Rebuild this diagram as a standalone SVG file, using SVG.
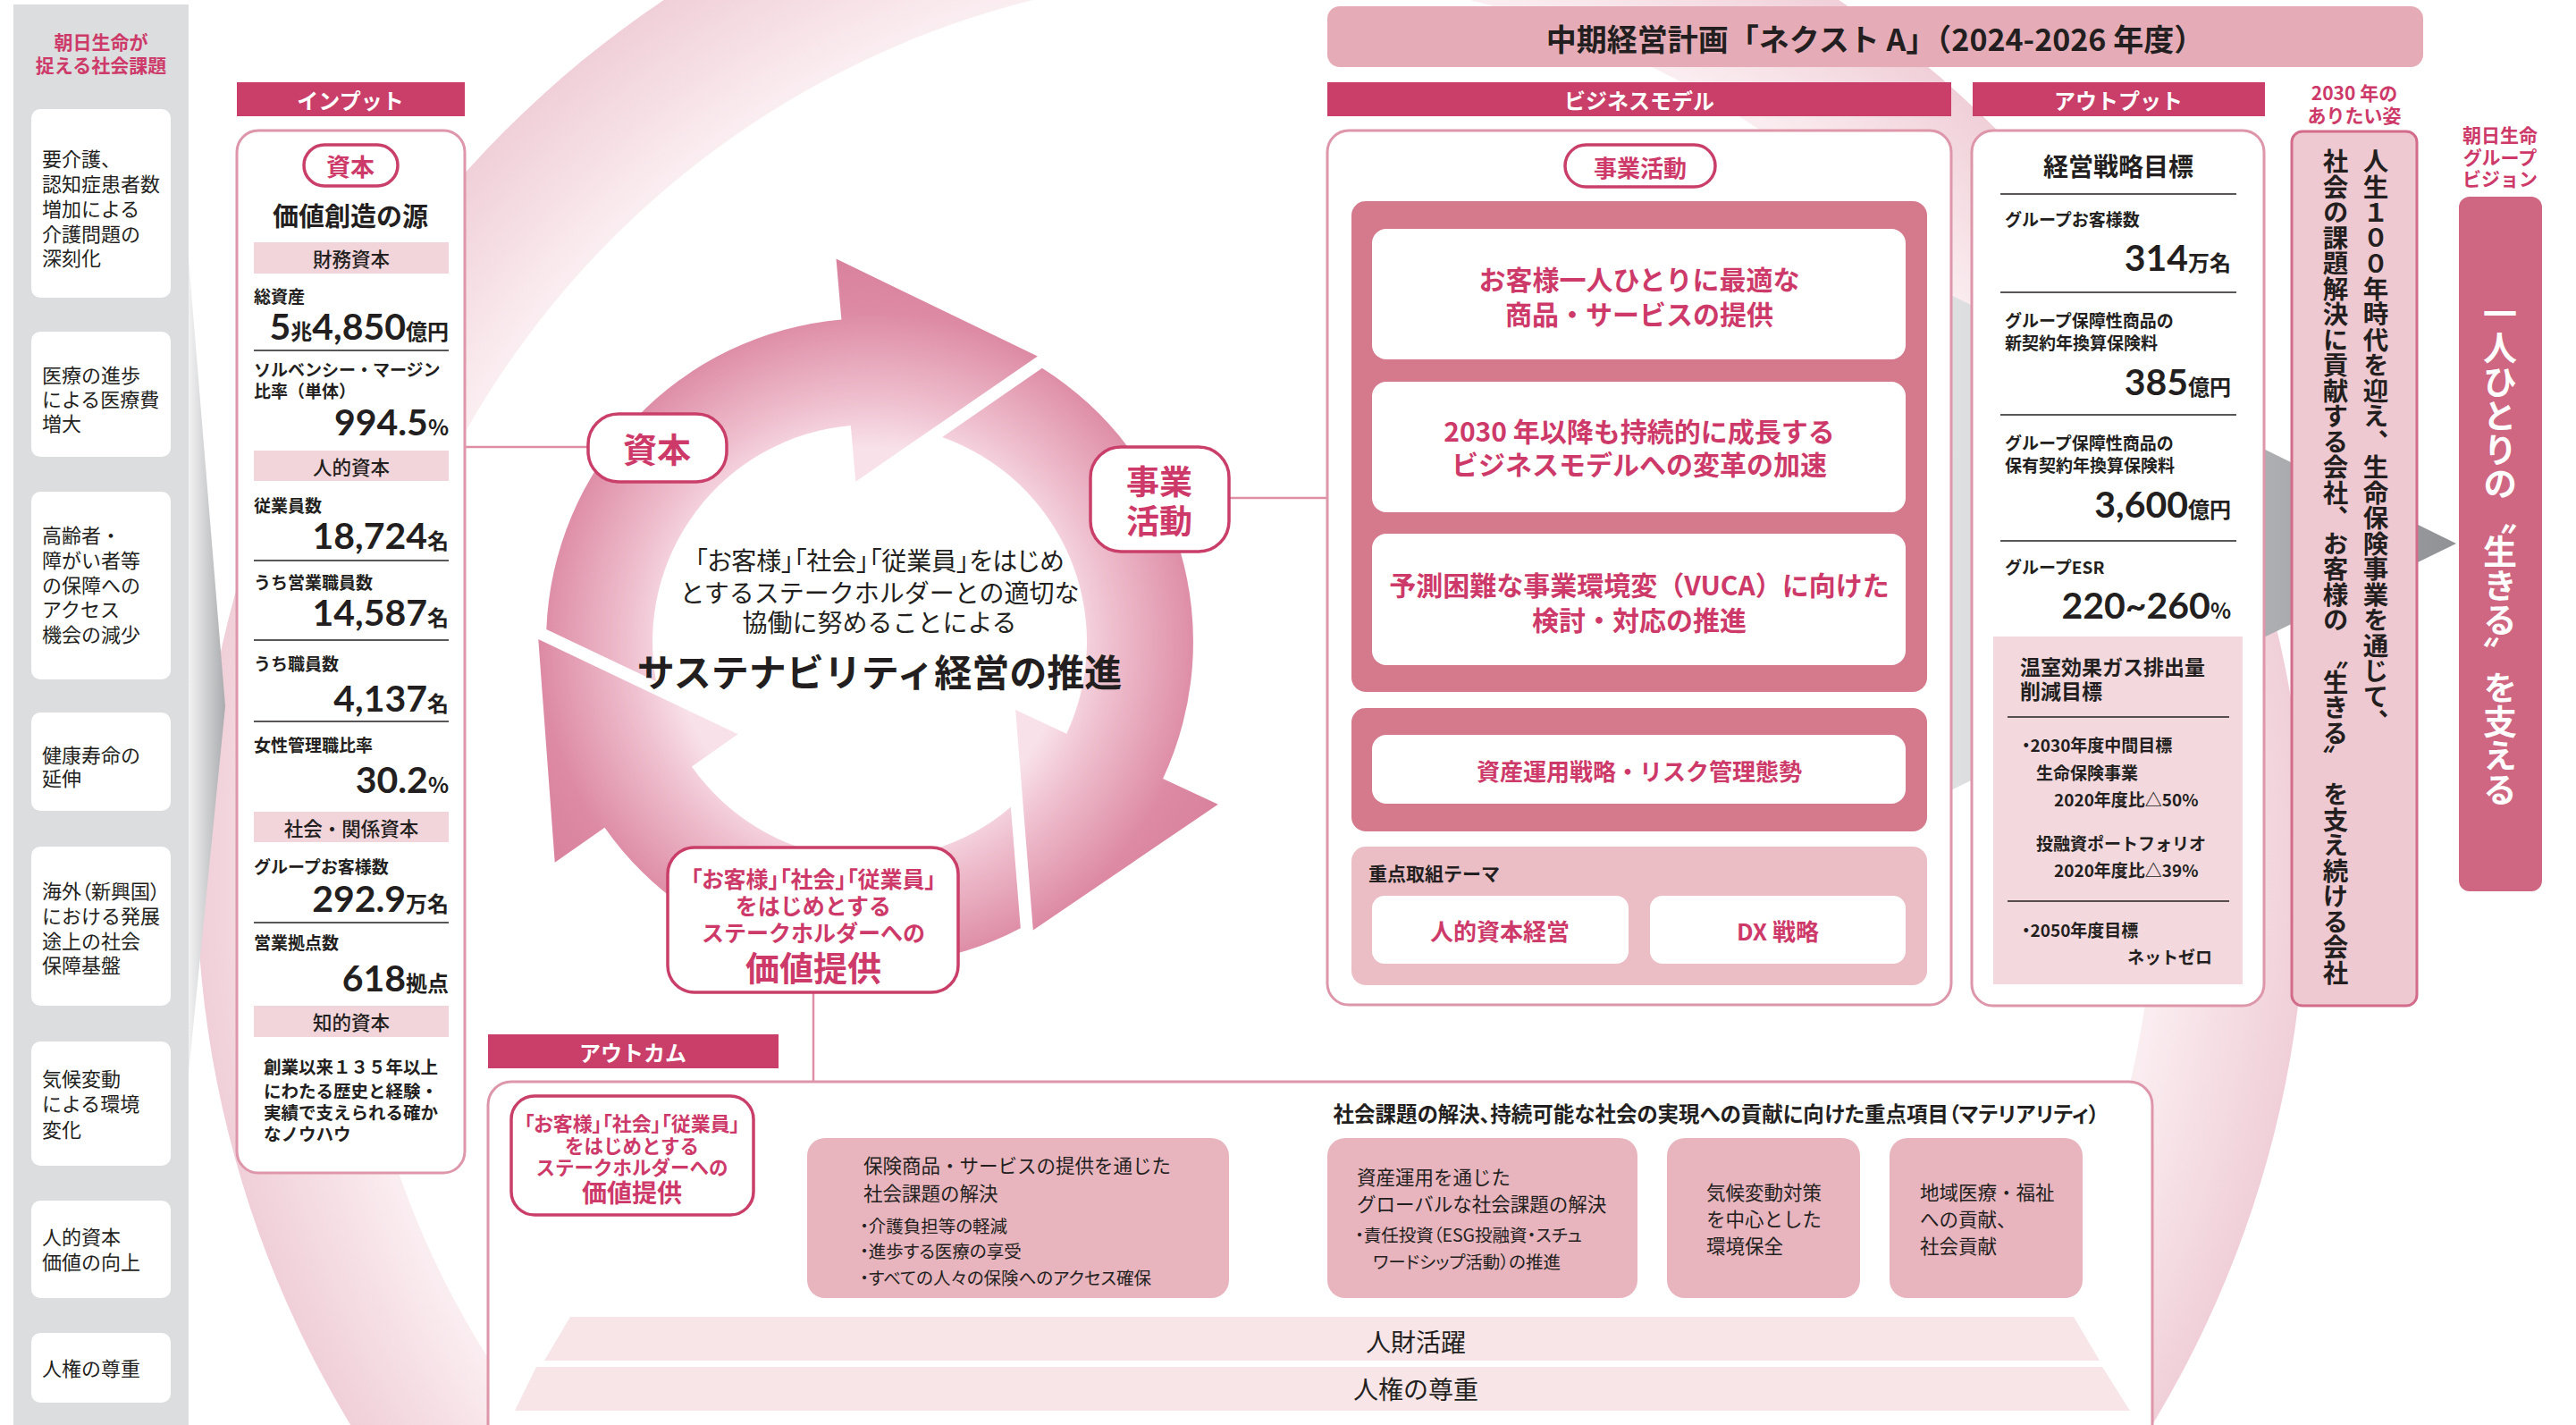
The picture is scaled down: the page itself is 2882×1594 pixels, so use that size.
<svg xmlns="http://www.w3.org/2000/svg" width="2882" height="1594" viewBox="0 0 2882 1594">
<defs>
<style>
text{font-family:"Noto Sans CJK JP","Noto Sans",sans-serif;fill:#231f20;}
.c{text-anchor:middle;dominant-baseline:central;}
.l{dominant-baseline:central;}
.hdr{fill:#c93f69;}
.hdt{fill:#fff;font-size:24px;font-weight:700;}
.frame{fill:#fff;stroke:#de97aa;stroke-width:3;}
.pill{fill:#fff;stroke:#c93f69;stroke-width:3.5;}
.pk{fill:#cd3a69;font-weight:700;}
.bd{font-weight:700;}
.iss{fill:#fff;}
.it{font-size:22px;}
.band{fill:#f2d4db;}
.bt{font-size:21.5px;font-weight:500;}
.lb{font-size:19px;font-weight:700;}
.num{font-family:"Lato","Noto Sans",sans-serif;font-size:41px;font-weight:700;text-anchor:end;}
.u{font-family:"Noto Sans CJK JP",sans-serif;font-size:24px;}
.rule{stroke:#231f20;stroke-width:1.5;}
.conn{stroke:#de8ea5;stroke-width:2.5;fill:none;}
.wb{fill:#fff;}
.palt{font-feature-settings:"palt";}
.ob{fill:#e8b5be;}
.ot{font-size:21.5px;}
.os{font-size:19.5px;}
.vt{writing-mode:vertical-rl;}
</style>
<radialGradient id="ringG" gradientUnits="userSpaceOnUse" cx="1400" cy="980" r="1180">
<stop offset="0.85" stop-color="#fbeff2"/>
<stop offset="1" stop-color="#f0cfd8"/>
</radialGradient>
<radialGradient id="cycG" gradientUnits="userSpaceOnUse" cx="973" cy="718" r="435">
<stop offset="0.5" stop-color="#f8e1e9"/>
<stop offset="0.62" stop-color="#efc0cf"/>
<stop offset="0.85" stop-color="#dd8aa4"/>
<stop offset="1" stop-color="#d9819d"/>
</radialGradient>
<linearGradient id="foldL" x1="211" y1="0" x2="252" y2="0" gradientUnits="userSpaceOnUse">
<stop offset="0" stop-color="#f2f2f3"/>
<stop offset="1" stop-color="#a9abae"/>
</linearGradient>
<linearGradient id="grayA" x1="2183" y1="0" x2="2748" y2="0" gradientUnits="userSpaceOnUse">
<stop offset="0" stop-color="#dfe0e2"/>
<stop offset="1" stop-color="#8f9195"/>
</linearGradient>
<path id="arw" d="M611.3 704.1 A362 362 0 0 1 941.4 357.4 L935.5 289.6 L1160.9 398.4 L957.3 538.7 L951.8 475.9 A243 243 0 0 0 734.1 762.3 Z"/>
</defs>

<g id="background">
<path fill="url(#ringG)" fill-rule="evenodd" d="M220 980 A1180 1180 0 1 0 2580 980 A1180 1180 0 1 0 220 980 Z M390 980 A1010 1010 0 1 0 2410 980 A1010 1010 0 1 0 390 980 Z"/>
<polygon fill="url(#foldL)" points="211,290 252,790 211,1200"/>
<polygon fill="url(#grayA)" points="2150,314 2748,608 2150,900"/>
</g>

<g id="social-issues">
<rect x="15" y="5" width="196" height="1600" fill="#dcddde"/>
<text class="c pk" font-size="21" x="113" y="46">朝日生命が</text>
<text class="c pk" font-size="21" x="113" y="72">捉える社会課題</text>
<g id="issue1"><rect class="iss" x="35" y="122" width="156" height="211" rx="10"/>
<text class="l it" x="47" y="176">要介護、</text><text class="l it" x="47" y="204">認知症患者数</text><text class="l it" x="47" y="232">増加による</text><text class="l it" x="47" y="260">介護問題の</text><text class="l it" x="47" y="287">深刻化</text></g>
<g id="issue2"><rect class="iss" x="35" y="371" width="156" height="140" rx="10"/>
<text class="l it" x="47" y="418">医療の進歩</text><text class="l it" x="47" y="445">による医療費</text><text class="l it" x="47" y="472">増大</text></g>
<g id="issue3"><rect class="iss" x="35" y="550" width="156" height="210" rx="10"/>
<text class="l it" x="47" y="597">高齢者・</text><text class="l it" x="47" y="625">障がい者等</text><text class="l it" x="47" y="653">の保障への</text><text class="l it" x="47" y="680">アクセス</text><text class="l it" x="47" y="708">機会の減少</text></g>
<g id="issue4"><rect class="iss" x="35" y="797" width="156" height="110" rx="10"/>
<text class="l it" x="47" y="843">健康寿命の</text><text class="l it" x="47" y="869">延伸</text></g>
<g id="issue5"><rect class="iss" x="35" y="947" width="156" height="178" rx="10"/>
<text class="l it palt" x="47" y="995">海外（新興国）</text><text class="l it" x="47" y="1023">における発展</text><text class="l it" x="47" y="1051">途上の社会</text><text class="l it" x="47" y="1078">保障基盤</text></g>
<g id="issue6"><rect class="iss" x="35" y="1165" width="156" height="139" rx="10"/>
<text class="l it" x="47" y="1205">気候変動</text><text class="l it" x="47" y="1233">による環境</text><text class="l it" x="47" y="1262">変化</text></g>
<g id="issue7"><rect class="iss" x="35" y="1343" width="156" height="109" rx="10"/>
<text class="l it" x="47" y="1382">人的資本</text><text class="l it" x="47" y="1410">価値の向上</text></g>
<g id="issue8"><rect class="iss" x="35" y="1491" width="156" height="78" rx="10"/>
<text class="l it" x="47" y="1529">人権の尊重</text></g>
</g>

<g id="connectors">
<line class="conn" x1="520" y1="500" x2="658" y2="500"/>
<line class="conn" x1="1375" y1="557" x2="1485" y2="557"/>
<line class="conn" x1="910" y1="1110" x2="910" y2="1211"/>
</g>

<g id="input">
<rect class="hdr" x="265" y="92" width="255" height="38"/>
<text class="c hdt" x="392" y="111">インプット</text>
<rect class="frame" x="265" y="146" width="255" height="1166" rx="24"/>
<rect class="pill" x="340" y="162" width="105" height="46" rx="23"/>
<text class="c pk" font-size="27" x="392" y="185">資本</text>
<text class="c bd" font-size="29" x="392" y="240">価値創造の源</text>
<rect class="band" x="284" y="271" width="218" height="35"/>
<text class="c bt" x="393" y="288">財務資本</text>
<text class="l lb" x="284" y="330">総資産</text>
<text class="num" x="502" y="380">5<tspan class="u" font-size="22">兆</tspan>4,850<tspan class="u">億円</tspan></text>
<line class="rule" x1="284" y1="392" x2="502" y2="392"/>
<text class="l lb" x="284" y="412">ソルベンシー・マージン</text>
<text class="l lb" x="284" y="436">比率（単体）</text>
<text class="num" x="502" y="487">994.5<tspan class="u">%</tspan></text>
<rect class="band" x="284" y="504" width="218" height="34"/>
<text class="c bt" x="393" y="521">人的資本</text>
<text class="l lb" x="284" y="564">従業員数</text>
<text class="num" x="502" y="614">18,724<tspan class="u">名</tspan></text>
<line class="rule" x1="284" y1="627" x2="502" y2="627"/>
<text class="l lb" x="284" y="650">うち営業職員数</text>
<text class="num" x="502" y="700">14,587<tspan class="u">名</tspan></text>
<line class="rule" x1="284" y1="716" x2="502" y2="716"/>
<text class="l lb" x="284" y="741">うち職員数</text>
<text class="num" x="502" y="796">4,137<tspan class="u">名</tspan></text>
<line class="rule" x1="284" y1="807" x2="502" y2="807"/>
<text class="l lb" x="284" y="832">女性管理職比率</text>
<text class="num" x="502" y="887">30.2<tspan class="u">%</tspan></text>
<rect class="band" x="284" y="908" width="218" height="34"/>
<text class="c bt" x="393" y="925">社会・関係資本</text>
<text class="l lb" x="284" y="968">グループお客様数</text>
<text class="num" x="502" y="1020">292.9<tspan class="u">万名</tspan></text>
<line class="rule" x1="284" y1="1032" x2="502" y2="1032"/>
<text class="l lb" x="284" y="1053">営業拠点数</text>
<text class="num" x="502" y="1109">618<tspan class="u">拠点</tspan></text>
<rect class="band" x="284" y="1125" width="218" height="35"/>
<text class="c bt" x="393" y="1142">知的資本</text>
<text class="l bd" font-size="19.5" x="295" y="1192">創業以来１３５年以上</text>
<text class="l bd" font-size="19.5" x="295" y="1219">にわたる歴史と経験・</text>
<text class="l bd" font-size="19.5" x="295" y="1243">実績で支えられる確か</text>
<text class="l bd" font-size="19.5" x="295" y="1267">なノウハウ</text>
</g>

<g id="cycle">
<use href="#arw" fill="url(#cycG)"/>
<use href="#arw" fill="url(#cycG)" transform="rotate(120 973 718)"/>
<use href="#arw" fill="url(#cycG)" transform="rotate(240 973 718)"/>
<text class="c palt" font-size="28" x="984" y="626">「お客様」「社会」「従業員」をはじめ</text>
<text class="c" font-size="28" x="984" y="662">とするステークホルダーとの適切な</text>
<text class="c" font-size="28" x="984" y="695">協働に努めることによる</text>
<text class="c bd" font-size="42" x="984" y="749">サステナビリティ経営の推進</text>
</g>
<g id="cycle-capital">
<rect class="pill" x="658" y="463" width="155" height="76" rx="34"/>
<text class="c pk" font-size="38" x="735" y="500">資本</text>
</g>
<g id="cycle-business">
<rect class="pill" x="1220" y="500" width="155" height="117" rx="34"/>
<text class="c pk" font-size="37" x="1297" y="537">事業</text>
<text class="c pk" font-size="37" x="1297" y="581">活動</text>
</g>
<g id="cycle-value">
<rect class="pill" x="747" y="948" width="325" height="162" rx="30"/>
<text class="c pk palt" font-size="25" x="910" y="982">「お客様」「社会」「従業員」</text>
<text class="c pk" font-size="25" x="910" y="1012">をはじめとする</text>
<text class="c pk" font-size="25" x="910" y="1042">ステークホルダーへの</text>
<text class="c pk" font-size="38" x="910" y="1080">価値提供</text>
</g>

<g id="plan-banner">
<rect x="1485" y="7" width="1226" height="68" rx="14" fill="#e5acb7"/>
<text class="c bd" font-size="34" x="2098" y="42">中期経営計画「ネクスト A」（2024-2026 年度）</text>
</g>

<g id="business-model">
<rect class="hdr" x="1485" y="92" width="698" height="38"/>
<text class="c hdt" x="1834" y="111">ビジネスモデル</text>
<rect class="frame" x="1485" y="146" width="698" height="978" rx="24"/>
<rect class="pill" x="1751" y="162" width="168" height="47" rx="23.5"/>
<text class="c pk" font-size="26" x="1835" y="186">事業活動</text>
<rect x="1512" y="225" width="644" height="549" rx="16" fill="#d47a8c"/>
<rect class="wb" x="1535" y="256" width="597" height="146" rx="16"/>
<rect class="wb" x="1535" y="427" width="597" height="146" rx="16"/>
<rect class="wb" x="1535" y="597" width="597" height="147" rx="16"/>
<text class="c pk" font-size="30" x="1834" y="311">お客様一人ひとりに最適な</text>
<text class="c pk" font-size="30" x="1834" y="350">商品・サービスの提供</text>
<text class="c pk" font-size="30" x="1834" y="481">2030 年以降も持続的に成長する</text>
<text class="c pk" font-size="30" x="1834" y="518">ビジネスモデルへの変革の加速</text>
<text class="c pk" font-size="30" x="1834" y="653">予測困難な事業環境変（VUCA）に向けた</text>
<text class="c pk" font-size="30" x="1834" y="692">検討・対応の推進</text>
<rect x="1512" y="792" width="644" height="138" rx="16" fill="#d47a8c"/>
<rect class="wb" x="1535" y="822" width="597" height="77" rx="16"/>
<text class="c pk" font-size="26" x="1834" y="861">資産運用戦略・リスク管理態勢</text>
<rect x="1512" y="947" width="644" height="155" rx="16" fill="#ebbec6"/>
<text class="l bd" font-size="21" x="1531" y="976">重点取組テーマ</text>
<rect class="wb" x="1535" y="1002" width="287" height="76" rx="14"/>
<rect class="wb" x="1846" y="1002" width="286" height="76" rx="14"/>
<text class="c pk" font-size="26" x="1678" y="1040">人的資本経営</text>
<text class="c pk" font-size="26" x="1989" y="1040">DX 戦略</text>
</g>

<g id="output">
<rect class="hdr" x="2207" y="92" width="327" height="38"/>
<text class="c hdt" x="2370" y="111">アウトプット</text>
<rect class="frame" x="2206" y="146" width="327" height="979" rx="24"/>
<text class="c bd" font-size="28" x="2370" y="185">経営戦略目標</text>
<line class="rule" x1="2238" y1="217" x2="2502" y2="217"/>
<text class="l lb" x="2243" y="244">グループお客様数</text>
<text class="num" x="2496" y="303">314<tspan class="u">万名</tspan></text>
<line class="rule" x1="2238" y1="327" x2="2502" y2="327"/>
<text class="l lb" x="2243" y="357">グループ保障性商品の</text>
<text class="l lb" x="2243" y="382">新契約年換算保険料</text>
<text class="num" x="2496" y="442">385<tspan class="u">億円</tspan></text>
<line class="rule" x1="2238" y1="464" x2="2502" y2="464"/>
<text class="l lb" x="2243" y="494">グループ保障性商品の</text>
<text class="l lb" x="2243" y="519">保有契約年換算保険料</text>
<text class="num" x="2496" y="579">3,600<tspan class="u">億円</tspan></text>
<line class="rule" x1="2238" y1="605" x2="2502" y2="605"/>
<text class="l lb" x="2243" y="633">グループESR</text>
<text class="num" x="2496" y="692">220~260<tspan class="u">%</tspan></text>
<rect x="2230" y="712" width="279" height="389" fill="#f3d9de"/>
<text class="l bd" font-size="23" x="2260" y="745">温室効果ガス排出量</text>
<text class="l bd" font-size="23" x="2260" y="772">削減目標</text>
<line class="rule" x1="2246" y1="802" x2="2494" y2="802"/>
<text class="l lb palt" x="2262" y="832">・2030年度中間目標</text>
<text class="l lb" x="2278" y="863">生命保険事業</text>
<text class="l lb" x="2298" y="893">2020年度比△50%</text>
<text class="l lb" x="2278" y="942">投融資ポートフォリオ</text>
<text class="l lb" x="2298" y="972">2020年度比△39%</text>
<line class="rule" x1="2246" y1="1008" x2="2494" y2="1008"/>
<text class="l lb palt" x="2262" y="1039">・2050年度目標</text>
<text class="l lb" x="2475" y="1069" text-anchor="end">ネットゼロ</text>
</g>

<g id="vision-2030">
<text class="c pk" font-size="21" x="2634" y="103">2030 年の</text>
<text class="c pk" font-size="21" x="2634" y="128">ありたい姿</text>
<rect x="2564" y="147" width="140" height="978" rx="12" fill="#efc9d1" stroke="#d26c8a" stroke-width="3"/>
<text class="vt bd" font-size="28.5" x="2658" y="166">人生１００年時代を迎え、生命保険事業を通じて、</text>
<text class="vt bd" font-size="28.5" x="2613" y="166">社会の課題解決に貢献する会社、お客様の<tspan dy="12">〝生きる〟</tspan><tspan dy="12">を支え続ける会社</tspan></text>
</g>

<g id="group-vision">
<text class="c pk" font-size="21" x="2797" y="150">朝日生命</text>
<text class="c pk" font-size="21" x="2797" y="175">グループ</text>
<text class="c pk" font-size="21" x="2797" y="199">ビジョン</text>
<rect x="2751" y="220" width="93" height="777" rx="12" fill="#cf6682"/>
<text class="vt bd" font-size="38" x="2797" y="332" style="fill:#fff">一人ひとりの〝生きる〟を支える</text>
</g>

<g id="outcome">
<rect class="hdr" x="546" y="1157" width="325" height="38"/>
<text class="c hdt" x="708" y="1176">アウトカム</text>
<rect class="frame" x="546" y="1210" width="1862" height="420" rx="26"/>
<g id="outcome-value">
<rect class="pill" x="572" y="1226" width="271" height="133" rx="26"/>
<text class="c pk palt" font-size="22" x="707" y="1255">「お客様」「社会」「従業員」</text>
<text class="c pk" font-size="21.5" x="707" y="1280">をはじめとする</text>
<text class="c pk" font-size="21.5" x="707" y="1304">ステークホルダーへの</text>
<text class="c pk" font-size="28" x="707" y="1333">価値提供</text>
</g>
<text class="c bd palt" font-size="23.5" x="1920" y="1245">社会課題の解決、持続可能な社会の実現への貢献に向けた重点項目（マテリアリティ）</text>
<g id="materiality-1">
<rect class="ob" x="903" y="1273" width="472" height="179" rx="20"/>
<text class="l ot" x="966" y="1302">保険商品・サービスの提供を通じた</text>
<text class="l ot" x="966" y="1333">社会課題の解決</text>
<text class="l os palt" x="962" y="1370">・介護負担等の軽減</text>
<text class="l os palt" x="962" y="1398">・進歩する医療の享受</text>
<text class="l os palt" x="962" y="1428">・すべての人々の保険へのアクセス確保</text>
</g>
<g id="materiality-2">
<rect class="ob" x="1485" y="1273" width="347" height="179" rx="20"/>
<text class="l ot" x="1518" y="1315">資産運用を通じた</text>
<text class="l ot" x="1518" y="1345">グローバルな社会課題の解決</text>
<text class="l os palt" x="1516" y="1380">・責任投資（ESG投融資・スチュ</text>
<text class="l os palt" x="1536" y="1410">ワードシップ活動）の推進</text>
</g>
<g id="materiality-3">
<rect class="ob" x="1865" y="1273" width="216" height="179" rx="20"/>
<text class="l ot" x="1909" y="1332">気候変動対策</text>
<text class="l ot" x="1909" y="1362">を中心とした</text>
<text class="l ot" x="1909" y="1392">環境保全</text>
</g>
<g id="materiality-4">
<rect class="ob" x="2114" y="1273" width="216" height="179" rx="20"/>
<text class="l ot" x="2148" y="1332">地域医療・福祉</text>
<text class="l ot" x="2148" y="1362">への貢献、</text>
<text class="l ot" x="2148" y="1392">社会貢献</text>
</g>
<g id="foundation">
<polygon points="638,1473 2320,1473 2349,1522 609,1522" fill="#f7e5e8"/>
<polygon points="600,1529 2352,1529 2383,1578 576,1578" fill="#f7e5e8"/>
<text class="c" font-size="28" x="1584" y="1500">人財活躍</text>
<text class="c" font-size="28" x="1584" y="1553">人権の尊重</text>
</g>
</g>
</svg>
